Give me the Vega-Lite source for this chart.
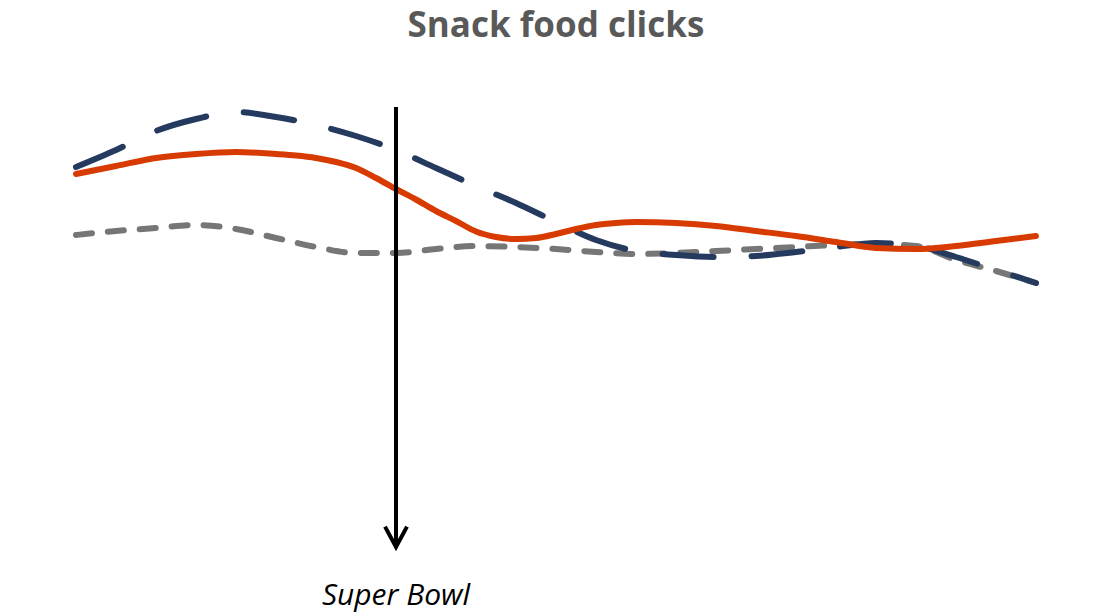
{
  "$schema": "https://vega.github.io/schema/vega-lite/v6.json",
  "width": 960,
  "height": 550,
  "autosize": {"type": "none"},
  "padding": {"left": 76, "top": 60, "right": 66, "bottom": 6},
  "background": "white",
  "config": {"view": {"stroke": null}},
  "title": {
    "text": "Snack food clicks",
    "anchor": "middle",
    "font": "Open Sans",
    "fontSize": 35,
    "fontWeight": "bold",
    "color": "#595959",
    "offset": 16
  },
  "datasets": {
    "clicks": [
      {"day": 0, "series": "Dips", "clicks": 88.6},
      {"day": 2, "series": "Dips", "clicks": 92},
      {"day": 4, "series": "Dips", "clicks": 95.8},
      {"day": 6, "series": "Dips", "clicks": 98.2},
      {"day": 8, "series": "Dips", "clicks": 99.6},
      {"day": 10, "series": "Dips", "clicks": 98.6},
      {"day": 12, "series": "Dips", "clicks": 97},
      {"day": 14, "series": "Dips", "clicks": 94.8},
      {"day": 16, "series": "Dips", "clicks": 92},
      {"day": 18, "series": "Dips", "clicks": 88.4},
      {"day": 20, "series": "Dips", "clicks": 84.8},
      {"day": 22, "series": "Dips", "clicks": 81.4},
      {"day": 24, "series": "Dips", "clicks": 77.6},
      {"day": 26, "series": "Dips", "clicks": 74},
      {"day": 28, "series": "Dips", "clicks": 71.8},
      {"day": 30, "series": "Dips", "clicks": 71},
      {"day": 32, "series": "Dips", "clicks": 70.6},
      {"day": 34, "series": "Dips", "clicks": 70.8},
      {"day": 36, "series": "Dips", "clicks": 71.6},
      {"day": 38, "series": "Dips", "clicks": 72.6},
      {"day": 40, "series": "Dips", "clicks": 73.4},
      {"day": 42, "series": "Dips", "clicks": 72.8},
      {"day": 44, "series": "Dips", "clicks": 70.6},
      {"day": 46, "series": "Dips", "clicks": 68},
      {"day": 48, "series": "Dips", "clicks": 65.4},

      {"day": 0, "series": "Chips", "clicks": 87.2},
      {"day": 2, "series": "Chips", "clicks": 88.8},
      {"day": 4, "series": "Chips", "clicks": 90.4},
      {"day": 6, "series": "Chips", "clicks": 91.2},
      {"day": 8, "series": "Chips", "clicks": 91.6},
      {"day": 10, "series": "Chips", "clicks": 91.2},
      {"day": 11, "series": "Chips", "clicks": 90.9},
      {"day": 12, "series": "Chips", "clicks": 90.4},
      {"day": 13, "series": "Chips", "clicks": 89.6},
      {"day": 14, "series": "Chips", "clicks": 88.4},
      {"day": 15, "series": "Chips", "clicks": 86.4},
      {"day": 16, "series": "Chips", "clicks": 84.2},
      {"day": 17, "series": "Chips", "clicks": 82.1},
      {"day": 18, "series": "Chips", "clicks": 79.8},
      {"day": 19, "series": "Chips", "clicks": 77.8},
      {"day": 20, "series": "Chips", "clicks": 75.7},
      {"day": 21, "series": "Chips", "clicks": 74.6},
      {"day": 22, "series": "Chips", "clicks": 74.2},
      {"day": 23, "series": "Chips", "clicks": 74.4},
      {"day": 24, "series": "Chips", "clicks": 75.2},
      {"day": 25, "series": "Chips", "clicks": 76.2},
      {"day": 26, "series": "Chips", "clicks": 77},
      {"day": 27, "series": "Chips", "clicks": 77.4},
      {"day": 28, "series": "Chips", "clicks": 77.6},
      {"day": 30, "series": "Chips", "clicks": 77.4},
      {"day": 32, "series": "Chips", "clicks": 76.8},
      {"day": 34, "series": "Chips", "clicks": 75.8},
      {"day": 36, "series": "Chips", "clicks": 74.8},
      {"day": 38, "series": "Chips", "clicks": 73.6},
      {"day": 40, "series": "Chips", "clicks": 72.4},
      {"day": 42, "series": "Chips", "clicks": 72.2},
      {"day": 44, "series": "Chips", "clicks": 72.8},
      {"day": 46, "series": "Chips", "clicks": 73.8},
      {"day": 48, "series": "Chips", "clicks": 74.8},

      {"day": 0, "series": "Nuts", "clicks": 75},
      {"day": 2, "series": "Nuts", "clicks": 75.8},
      {"day": 4, "series": "Nuts", "clicks": 76.4},
      {"day": 6, "series": "Nuts", "clicks": 77},
      {"day": 8, "series": "Nuts", "clicks": 76.2},
      {"day": 10, "series": "Nuts", "clicks": 74.4},
      {"day": 12, "series": "Nuts", "clicks": 72.6},
      {"day": 14, "series": "Nuts", "clicks": 71.4},
      {"day": 16, "series": "Nuts", "clicks": 71.4},
      {"day": 18, "series": "Nuts", "clicks": 72.2},
      {"day": 20, "series": "Nuts", "clicks": 72.8},
      {"day": 22, "series": "Nuts", "clicks": 72.6},
      {"day": 24, "series": "Nuts", "clicks": 72.2},
      {"day": 26, "series": "Nuts", "clicks": 71.6},
      {"day": 28, "series": "Nuts", "clicks": 71.2},
      {"day": 30, "series": "Nuts", "clicks": 71.4},
      {"day": 32, "series": "Nuts", "clicks": 71.8},
      {"day": 34, "series": "Nuts", "clicks": 72.2},
      {"day": 36, "series": "Nuts", "clicks": 72.6},
      {"day": 38, "series": "Nuts", "clicks": 73},
      {"day": 40, "series": "Nuts", "clicks": 73.2},
      {"day": 42, "series": "Nuts", "clicks": 72.8},
      {"day": 44, "series": "Nuts", "clicks": 70},
      {"day": 46, "series": "Nuts", "clicks": 67.8},
      {"day": 48, "series": "Nuts", "clicks": 65.4}
    ],
    "event": [
      {"day": 16, "top": 100.6, "bottom": 12.8, "tip": 12.6, "labelY": 2.8, "label": "Super Bowl"}
    ]
  },
  "encoding": {
    "x": {"field": "day", "type": "quantitative", "scale": {"domain": [0, 48], "nice": false, "zero": false}, "axis": null},
    "y": {"field": "clicks", "type": "quantitative", "scale": {"domain": [0, 110], "nice": false}, "axis": null}
  },
  "layer": [
    {
      "data": {"name": "clicks"},
      "transform": [{"filter": "datum.series === 'Nuts'"}],
      "mark": {"type": "line", "interpolate": "monotone", "strokeWidth": 6, "strokeCap": "round", "strokeDash": [16, 16], "color": "#767676"}
    },
    {
      "data": {"name": "clicks"},
      "transform": [{"filter": "datum.series === 'Dips'"}],
      "mark": {"type": "line", "interpolate": "monotone", "strokeWidth": 6, "strokeCap": "round", "strokeDash": [51, 38], "color": "#243A5E"}
    },
    {
      "data": {"name": "clicks"},
      "transform": [{"filter": "datum.series === 'Chips'"}],
      "mark": {"type": "line", "interpolate": "monotone", "strokeWidth": 6, "strokeCap": "round", "color": "#D83B01"}
    },
    {
      "data": {"name": "event"},
      "mark": {"type": "rule", "color": "black", "strokeWidth": 4},
      "encoding": {
        "y": {"field": "top", "type": "quantitative"},
        "y2": {"field": "bottom"}
      }
    },
    {
      "data": {"name": "event"},
      "mark": {"type": "point", "shape": "M-1,-1.85L0,0L1,-1.85", "size": 484, "filled": false, "stroke": "black", "strokeWidth": 4, "opacity": 1, "strokeJoin": "miter"},
      "encoding": {
        "y": {"field": "tip", "type": "quantitative"}
      }
    },
    {
      "data": {"name": "event"},
      "mark": {"type": "text", "font": "Open Sans", "fontSize": 30, "fontStyle": "italic", "color": "black", "baseline": "middle", "align": "center"},
      "encoding": {
        "y": {"field": "labelY", "type": "quantitative"},
        "text": {"field": "label"}
      }
    }
  ]
}
